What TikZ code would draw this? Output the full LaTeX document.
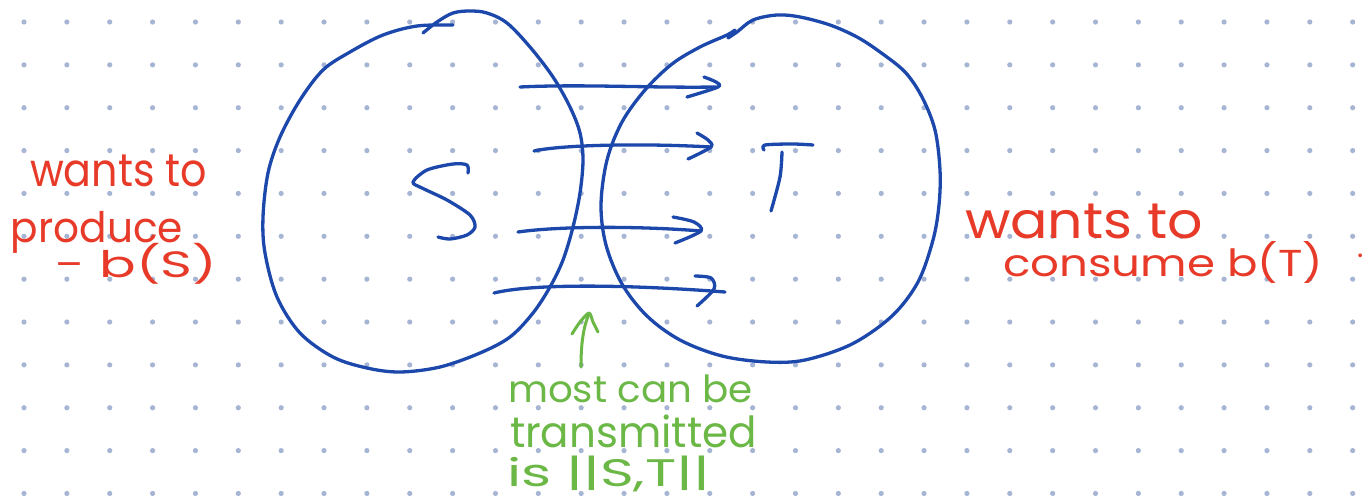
\documentclass[tikz,border=0pt]{standalone}
\usepackage{fontspec}
\setmainfont{Poppins}
\usepackage{graphicx}
\definecolor{penblue}{RGB}{28,72,172}
\definecolor{penred}{RGB}{232,58,40}
\definecolor{pengreen}{RGB}{108,184,70}
\definecolor{dotc}{RGB}{166,181,212}
\newcommand\hwt[3]{\resizebox*{#1pt}{#2pt}{#3}}
\begin{document}
\begin{tikzpicture}[x=1pt,y=-1pt,
  pen/.style={draw=penblue, line width=3.3pt, line cap=round, line join=round},
  gpen/.style={draw=pengreen, line width=3pt, line cap=round, line join=round},
  redtxt/.style={text=penred, inner sep=0pt, outer sep=0pt},
  greentxt/.style={text=pengreen, inner sep=0pt, outer sep=0pt}]
\useasboundingbox (0,0) rectangle (1371,501);
\fill[white] (0,0) rectangle (1371,501);
% dot grid
\foreach \i in {0,...,31}{\foreach \j in {0,...,11}{
  \fill[dotc] ({24+42.86*\i},{22+42.86*\j}) circle[radius=2.6pt];}}
% left set S
\draw[pen] plot[smooth, tension=0.55] coordinates {
 (423,33) (437,22) (453,13) (470,11) (487,13) (507,23) (530,47) (553,77) (570,107)
 (580,133) (583,160) (580,193) (573,227) (563,260) (550,287) (533,313) (510,337)
 (480,353) (440,367) (400,372) (367,368) (333,357) (300,333) (277,297) (265,253)
 (263,217) (268,173) (280,137) (300,100) (323,70) (350,52) (383,35) (417,26) (453,25)};
% right set T
\draw[pen] plot[smooth, tension=0.55] coordinates {
 (728,38) (737,32) (753,20) (777,15) (800,17) (830,25) (857,37) (880,52) (905,72)
 (922,97) (935,130) (940,170) (939,205) (933,240) (918,282) (892,316) (852,344)
 (805,360) (767,362) (722,356) (680,340) (647,316) (622,284) (606,245) (601,205)
 (607,160) (622,122) (645,90) (672,64) (700,47) (727,35) (735,30)};
% letter S
\node[inner sep=0pt] (Slabel) at (445,205) {};
\draw[pen] plot[smooth, tension=0.5] coordinates {
 (468,173) (467,165) (453,164) (427,170) (413,182) (422,188) (447,200) (470,215)
 (475,227) (467,235) (450,239) (438,237)};
% letter T
\node[inner sep=0pt] (Tlabel) at (785,178) {};
\draw[pen] plot[smooth, tension=0.5] coordinates {(764,150) (765,145) (793,144) (813,145)};
\draw[pen] plot[smooth, tension=0.5] coordinates {(782,152) (780,177) (771,211)};
% arrows from S to T
\coordinate (a1s) at (520,87);  \coordinate (a1e) at (716,87);
\coordinate (a2s) at (534,151); \coordinate (a2e) at (711,147);
\coordinate (a3s) at (518,232); \coordinate (a3e) at (701,231);
\coordinate (a4s) at (494,293); \coordinate (a4e) at (725,292);
\draw[pen] (a1s) .. controls (580,84) and (650,88) .. (a1e);
\draw[pen] plot[smooth, tension=0.5] coordinates {(704,77) (716,82) (718,87) (687,97)};
\draw[pen] (a2s) .. controls (560,145) and (640,143) .. (a2e);
\draw[pen] plot[smooth, tension=0.5] coordinates {(697,133) (708,140) (711,147) (688,159)};
\draw[pen] (a3s) .. controls (560,226) and (640,226) .. (a3e);
\draw[pen] plot[smooth, tension=0.5] coordinates {(673,217) (694,222) (701,231) (675,243)};
\draw[pen] (a4s) .. controls (530,284) and (620,284) .. (a4e);
\draw[pen] plot[smooth, tension=0.5] coordinates {(695,276) (711,278) (714,289) (697,306)};
% green arrow
\coordinate (gs) at (581,367);
\coordinate (ge) at (589,314);
\draw[gpen] (gs) .. controls (581,350) and (582,330) .. (ge);
\draw[gpen] plot[smooth, tension=0.5] coordinates {(572,334) (580,322) (589,313) (593,322) (598,332)};
% red texts
\node[redtxt, anchor=north west] (lw) at (30,155) {\hwt{177}{32}{wants to}};
\node[redtxt, anchor=north west] (lp) at (11,211) {\hwt{172}{42}{produce}};
\node[redtxt, anchor=north west] (lb) at (55,243) {\hwt{162}{41}{− b(S)}};
\node[redtxt, anchor=north west] (rw) at (965,204) {\hwt{238}{35}{wants to}};
\node[redtxt, anchor=north west] (rc) at (1003,241) {\hwt{320}{42}{consume b(T)}};
\node[redtxt] (rdot) at (1361,256) {\fontsize{30}{30}\selectfont .};
% green texts
\node[greentxt, anchor=north west] (g1) at (508,375) {\hwt{245}{28}{most can be}};
\node[greentxt, anchor=north west] (g2) at (510,415) {\hwt{247}{33}{transmitted}};
\node[greentxt, anchor=north west] (g3) at (507,456) {\hwt{203}{36}{is ||S,T||}};
\end{tikzpicture}
\end{document}
